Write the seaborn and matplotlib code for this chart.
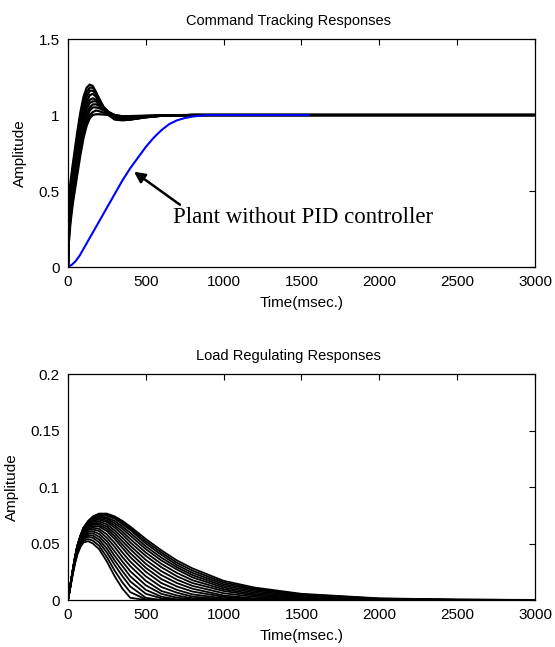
import matplotlib
matplotlib.use('Agg')
import numpy as np
import pandas as pd
import seaborn as sns
import matplotlib.pyplot as plt

#***************** Data ********************************************

# Command tracking: step responses of the PID loop (time in msec.)
track_t = [0, 5, 15, 30, 45, 60, 80, 100, 120, 140, 160, 180, 200, 230, 260, 300, 350, 400, 500, 600, 800, 1000, 3000]
track_runs = [
    [0, 0.42, 0.55, 0.67, 0.78, 0.89, 1.02, 1.12, 1.18, 1.20, 1.19, 1.15, 1.10, 1.04, 1.00, 0.970, 0.965, 0.970, 0.985, 0.995, 1.0, 1.0, 1.0],
    [0, 0.39, 0.52, 0.64, 0.75, 0.86, 0.99, 1.09, 1.15, 1.18, 1.18, 1.15, 1.11, 1.05, 1.01, 0.975, 0.967, 0.970, 0.985, 0.995, 1.0, 1.0, 1.0],
    [0, 0.36, 0.49, 0.61, 0.72, 0.83, 0.96, 1.06, 1.12, 1.16, 1.16, 1.14, 1.10, 1.05, 1.015, 0.980, 0.970, 0.972, 0.986, 0.995, 1.0, 1.0, 1.0],
    [0, 0.33, 0.46, 0.58, 0.69, 0.80, 0.93, 1.03, 1.09, 1.13, 1.14, 1.12, 1.09, 1.05, 1.02, 0.985, 0.972, 0.975, 0.987, 0.996, 1.0, 1.0, 1.0],
    [0, 0.30, 0.43, 0.55, 0.66, 0.77, 0.90, 1.00, 1.07, 1.10, 1.11, 1.10, 1.08, 1.05, 1.02, 0.990, 0.976, 0.977, 0.988, 0.996, 1.0, 1.0, 1.0],
    [0, 0.27, 0.40, 0.52, 0.63, 0.74, 0.87, 0.97, 1.04, 1.08, 1.09, 1.09, 1.07, 1.045, 1.02, 0.995, 0.980, 0.980, 0.990, 0.997, 1.0, 1.0, 1.0],
    [0, 0.24, 0.37, 0.49, 0.60, 0.71, 0.84, 0.94, 1.01, 1.05, 1.07, 1.07, 1.06, 1.04, 1.02, 1.000, 0.985, 0.983, 0.990, 0.997, 1.0, 1.0, 1.0],
    [0, 0.21, 0.34, 0.46, 0.57, 0.67, 0.80, 0.91, 0.98, 1.03, 1.05, 1.05, 1.045, 1.03, 1.015, 1.000, 0.990, 0.987, 0.992, 0.997, 1.0, 1.0, 1.0],
    [0, 0.18, 0.31, 0.44, 0.54, 0.64, 0.77, 0.88, 0.95, 1.00, 1.02, 1.03, 1.025, 1.015, 1.008, 1.000, 0.992, 0.990, 0.994, 0.998, 1.0, 1.0, 1.0],
    [0, 0.15, 0.28, 0.41, 0.51, 0.61, 0.74, 0.85, 0.93, 0.98, 1.00, 1.005, 1.005, 1.003, 1.00, 0.995, 0.992, 0.993, 0.996, 0.998, 1.0, 1.0, 1.0],
]

# plant alone (blue)
plant_t = [0, 25, 50, 75, 100, 150, 200, 250, 300, 350, 400, 450, 500, 550, 600, 650, 700, 750, 800, 900, 1000, 1200, 1550]
plant_amp = [0, 0.015, 0.04, 0.075, 0.12, 0.21, 0.30, 0.39, 0.48, 0.57, 0.65, 0.72, 0.79, 0.85, 0.90, 0.94, 0.965, 0.98, 0.99, 1.0, 1.0, 1.0, 1.0]

# Load regulating responses
load_t = [0, 15, 30, 45, 60, 80, 100, 130, 160, 200, 250, 300, 350, 400, 500, 600, 700, 800, 1000, 1200, 1500, 2000, 2500, 3000]
load_runs = [
    [0, 0.013, 0.026, 0.038, 0.048, 0.057, 0.064, 0.070, 0.074, 0.0765, 0.0765, 0.074, 0.070, 0.065, 0.054, 0.044, 0.035, 0.028, 0.017, 0.011, 0.0055, 0.0015, 0.0004, 0.0001],
    [0, 0.013, 0.026, 0.038, 0.048, 0.057, 0.064, 0.0698, 0.0735, 0.0757, 0.0755, 0.073, 0.0685, 0.0635, 0.052, 0.042, 0.033, 0.026, 0.0155, 0.010, 0.005, 0.0012, 0.0003, 0],
    [0, 0.013, 0.026, 0.038, 0.048, 0.057, 0.064, 0.0695, 0.073, 0.075, 0.0745, 0.072, 0.067, 0.062, 0.050, 0.040, 0.031, 0.024, 0.014, 0.009, 0.0045, 0.001, 0.0003, 0],
    [0, 0.013, 0.026, 0.038, 0.048, 0.0565, 0.0635, 0.069, 0.0725, 0.074, 0.073, 0.070, 0.065, 0.0595, 0.0475, 0.0375, 0.029, 0.022, 0.0125, 0.0078, 0.0037, 0.0008, 0.0001, 0],
    [0, 0.013, 0.026, 0.038, 0.048, 0.056, 0.063, 0.069, 0.072, 0.073, 0.072, 0.068, 0.063, 0.057, 0.045, 0.035, 0.027, 0.020, 0.011, 0.0065, 0.003, 0.0006, 0, 0],
    [0, 0.013, 0.026, 0.0375, 0.0475, 0.056, 0.0625, 0.0685, 0.071, 0.072, 0.0705, 0.066, 0.0605, 0.054, 0.042, 0.032, 0.024, 0.0175, 0.0095, 0.0052, 0.0022, 0.0004, 0, 0],
    [0, 0.013, 0.026, 0.037, 0.047, 0.056, 0.062, 0.068, 0.0705, 0.071, 0.069, 0.064, 0.058, 0.051, 0.039, 0.029, 0.021, 0.015, 0.008, 0.004, 0.0015, 0.0002, 0, 0],
    [0, 0.013, 0.0255, 0.037, 0.047, 0.0555, 0.0615, 0.067, 0.069, 0.0695, 0.067, 0.0615, 0.055, 0.048, 0.0355, 0.0255, 0.018, 0.0125, 0.006, 0.0028, 0.0009, 0.0001, 0, 0],
    [0, 0.013, 0.025, 0.037, 0.047, 0.055, 0.061, 0.066, 0.068, 0.068, 0.065, 0.059, 0.052, 0.045, 0.032, 0.022, 0.015, 0.010, 0.004, 0.0015, 0.0004, 0, 0, 0],
    [0, 0.0125, 0.025, 0.0365, 0.0465, 0.0545, 0.0605, 0.065, 0.0668, 0.0665, 0.063, 0.0565, 0.049, 0.0415, 0.0285, 0.0185, 0.012, 0.0075, 0.0028, 0.0009, 0.0002, 0, 0, 0],
    [0, 0.012, 0.025, 0.036, 0.046, 0.054, 0.060, 0.064, 0.0655, 0.065, 0.061, 0.054, 0.046, 0.038, 0.025, 0.015, 0.009, 0.005, 0.0015, 0.0003, 0, 0, 0, 0],
    [0, 0.012, 0.025, 0.036, 0.0455, 0.0535, 0.059, 0.063, 0.064, 0.063, 0.058, 0.0505, 0.042, 0.034, 0.021, 0.0115, 0.0065, 0.003, 0.0007, 0, 0, 0, 0, 0],
    [0, 0.012, 0.025, 0.036, 0.045, 0.053, 0.058, 0.062, 0.0625, 0.061, 0.055, 0.047, 0.038, 0.030, 0.017, 0.008, 0.004, 0.0015, 0, 0, 0, 0, 0, 0],
    [0, 0.012, 0.0245, 0.0355, 0.0445, 0.0525, 0.057, 0.0605, 0.0608, 0.0585, 0.052, 0.043, 0.034, 0.0255, 0.013, 0.0055, 0.002, 0.0007, 0, 0, 0, 0, 0, 0],
    [0, 0.012, 0.024, 0.035, 0.044, 0.052, 0.056, 0.059, 0.059, 0.056, 0.049, 0.039, 0.030, 0.021, 0.009, 0.003, 0.0005, 0, 0, 0, 0, 0, 0, 0],
    [0, 0.012, 0.024, 0.0345, 0.0435, 0.051, 0.055, 0.0575, 0.057, 0.0535, 0.0455, 0.035, 0.0255, 0.0165, 0.0055, 0.0015, 0, 0, 0, 0, 0, 0, 0, 0],
    [0, 0.012, 0.024, 0.034, 0.043, 0.050, 0.054, 0.056, 0.055, 0.051, 0.042, 0.031, 0.021, 0.012, 0.002, 0, 0, 0, 0, 0, 0, 0, 0, 0],
    [0, 0.0115, 0.023, 0.033, 0.0415, 0.0485, 0.0525, 0.054, 0.0525, 0.048, 0.038, 0.026, 0.0155, 0.007, 0.0005, 0, 0, 0, 0, 0, 0, 0, 0, 0],
    [0, 0.011, 0.022, 0.032, 0.040, 0.047, 0.051, 0.052, 0.050, 0.045, 0.034, 0.021, 0.010, 0.002, 0, 0, 0, 0, 0, 0, 0, 0, 0, 0],
]

x_ticks = [0, 500, 1000, 1500, 2000, 2500, 3000]
top_yticks = [0, 0.5, 1, 1.5]
top_ylabels = ['0', '0.5', '1', '1.5']
bot_yticks = [0, 0.05, 0.1, 0.15, 0.2]
bot_ylabels = ['0', '0.05', '0.1', '0.15', '0.2']


def runs_to_df(t, runs):
    rows = []
    for i, r in enumerate(runs):
        for tt, a in zip(t, r):
            rows.append((i, tt, a))
    return pd.DataFrame(rows, columns=['run', 't', 'amp'])


def style_axes(ax, yticks, ylabels, ymax, title):
    ax.set_xlim(0, 3000)
    ax.set_ylim(0, ymax)
    ax.set_xticks(x_ticks)
    ax.set_yticks(yticks)
    ax.set_yticklabels(ylabels)
    ax.tick_params(direction='in', length=4, width=0.8, top=True, right=True,
                   labelsize=11, pad=6, colors='black')
    for s in ax.spines.values():
        s.set_color('black')
        s.set_linewidth(0.9)
    ax.set_xlabel('Time(msec.)', fontsize=11, labelpad=5)
    ax.set_ylabel('Amplitude', fontsize=11, labelpad=8)
    # matlab puts the title a bit left of centre
    ax.set_title(title, fontsize=10.5, pad=10, x=0.472)
    ax.grid(False)


sns.set_theme(style="white")
plt.rcParams['font.family'] = ['Liberation Sans', 'DejaVu Sans']
plt.rcParams['text.color'] = 'black'
plt.rcParams['axes.labelcolor'] = 'black'

fig = plt.figure(figsize=(5.55, 6.47), dpi=100)
fig.patch.set_facecolor('white')

ax1 = fig.add_axes([0.1225, 0.5873, 0.8414, 0.3524])
ax2 = fig.add_axes([0.1225, 0.0726, 0.8414, 0.3493])

df_track = runs_to_df(track_t, track_runs)
sns.lineplot(data=df_track, x='t', y='amp', units='run', estimator=None,
             color='black', lw=1.6, legend=False, ax=ax1)
sns.lineplot(x=plant_t, y=plant_amp, color='#0000ff', lw=1.5, ax=ax1)

ax1.text(674, 0.29, 'Plant without PID controller', fontsize=16.5,
         family=['Liberation Serif', 'DejaVu Serif'], ha='left', va='baseline')
ax1.annotate('', xy=(424, 0.627), xytext=(719, 0.41),
             arrowprops=dict(arrowstyle='-|>', color='black', lw=1.8,
                             mutation_scale=16, shrinkA=0, shrinkB=0))
style_axes(ax1, top_yticks, top_ylabels, 1.5, 'Command Tracking Responses')

df_load = runs_to_df(load_t, load_runs)
sns.lineplot(data=df_load, x='t', y='amp', units='run', estimator=None,
             color='black', lw=1.3, legend=False, ax=ax2)
style_axes(ax2, bot_yticks, bot_ylabels, 0.2, 'Load Regulating Responses')

fig.savefig('out.png', dpi=100, facecolor='white')
